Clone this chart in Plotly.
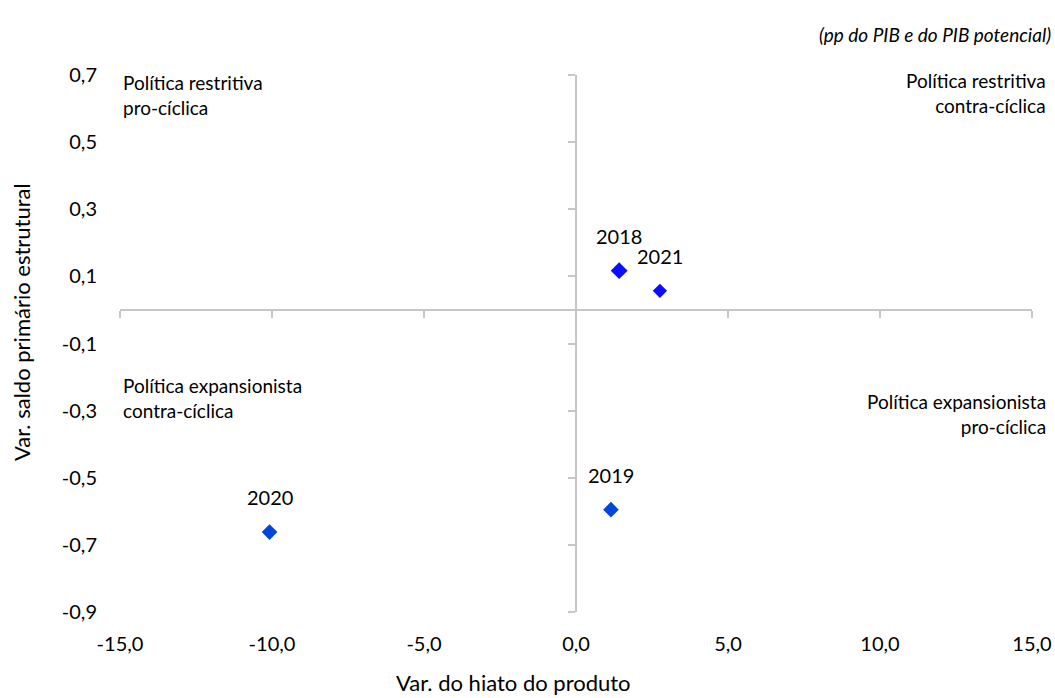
import plotly.graph_objects as go

# data
years = ["2018", "2021", "2019", "2020"]
hiato = [1.42, 2.76, 1.15, -10.08]
saldo = [0.117, 0.057, -0.595, -0.662]

x_tickvals = [-15, -10, -5, 0, 5, 10, 15]
x_ticktext = ["-15,0", "-10,0", "-5,0", "0,0", "5,0", "10,0", "15,0"]
y_tickvals = [0.7, 0.5, 0.3, 0.1, -0.1, -0.3, -0.5, -0.7, -0.9]
y_ticktext = ["0,7", "0,5", "0,3", "0,1", "-0,1", "-0,3", "-0,5", "-0,7", "-0,9"]

# style
FONT = "Lato, Carlito, Calibri, sans-serif"
AXIS_GREY = "#c6c6c6"
marker_colors = ["#0c0cff", "#0c0cff", "#0046dc", "#0046dc"]
marker_sizes = [13, 11, 12, 12]
X_RANGE = [-15, 15]
Y_RANGE = [-0.9, 0.7]

fig = go.Figure()
fig.add_trace(
    go.Scatter(
        x=hiato,
        y=saldo,
        mode="markers",
        marker=dict(symbol="diamond", size=marker_sizes, color=marker_colors,
                    opacity=1, line=dict(width=0)),
        hoverinfo="skip",
        showlegend=False,
    )
)
# carrier trace so the crossing axes get drawn
fig.add_trace(
    go.Scatter(x=[None], y=[None], xaxis="x2", yaxis="y2",
               showlegend=False, hoverinfo="skip")
)

annotations = []
for yr, xv, yv in zip(years, hiato, saldo):
    annotations.append(dict(
        x=xv, y=yv, text=yr, showarrow=False, yshift=35,
        font=dict(size=20, color="#000000"),
    ))

quadrants = [
    ("Política restritiva<br>pro-cíclica", 0.001, 0.962, "left"),
    ("Política restritiva<br>contra-cíclica", 1.018, 0.966, "right"),
    ("Política expansionista<br>contra-cíclica", 0.001, 0.3985, "left"),
    ("Política expansionista<br>pro-cíclica", 1.018, 0.369, "right"),
]
for text, px, py, side in quadrants:
    annotations.append(dict(
        xref="paper", yref="paper", x=px, y=py, text=text, showarrow=False,
        xanchor=side, yanchor="middle", align=side,
        font=dict(size=19, color="#000000"),
    ))

annotations += [
    dict(xref="paper", yref="paper", x=1.023, y=1.076, xanchor="right",
         yanchor="middle", showarrow=False,
         text="<i>(pp do PIB e do PIB potencial)</i>",
         font=dict(size=19, color="#000000")),
    dict(xref="paper", yref="paper", x=-0.1086, y=0.540, xanchor="center",
         yanchor="middle", showarrow=False, textangle=-90,
         text="Var. saldo primário estrutural",
         font=dict(size=22, color="#000000")),
    dict(xref="paper", yref="paper", x=0.431, y=-0.132, xanchor="center",
         yanchor="middle", showarrow=False,
         text="Var. do hiato do produto",
         font=dict(size=22, color="#000000")),
]

fig.update_layout(
    width=1055,
    height=698,
    margin=dict(l=120, r=23, t=75, b=86),
    paper_bgcolor="white",
    plot_bgcolor="white",
    font=dict(family=FONT, size=20, color="#000000"),
    annotations=annotations,
    xaxis=dict(
        range=X_RANGE, tickvals=x_tickvals, ticktext=x_ticktext,
        showgrid=False, zeroline=False, showline=False, ticks="",
        ticklabelstandoff=18, automargin=False,
    ),
    yaxis=dict(
        range=Y_RANGE, tickvals=y_tickvals, ticktext=y_ticktext,
        showgrid=False, zeroline=False, showline=False, ticks="",
        ticklabelstandoff=22, automargin=False,
    ),
    xaxis2=dict(
        range=X_RANGE, tickvals=x_tickvals, overlaying="x", anchor="free",
        position=0.5625, showline=True, linecolor=AXIS_GREY, linewidth=1.5,
        ticks="outside", ticklen=7, tickcolor=AXIS_GREY, tickwidth=1.5,
        showticklabels=False, showgrid=False, zeroline=False,
        automargin=False,
    ),
    yaxis2=dict(
        range=Y_RANGE, tickvals=y_tickvals, overlaying="y", anchor="free",
        position=0.5, showline=True, linecolor=AXIS_GREY, linewidth=1.5,
        ticks="outside", ticklen=7, tickcolor=AXIS_GREY, tickwidth=1.5,
        showticklabels=False, showgrid=False, zeroline=False,
        automargin=False,
    ),
)

# drop the default page margin so the figure fills the window exactly
fig.write_html(
    "out.html",
    config={"displayModeBar": False},
    post_script="document.body.style.margin='0';"
                "document.body.style.overflow='hidden';",
)
